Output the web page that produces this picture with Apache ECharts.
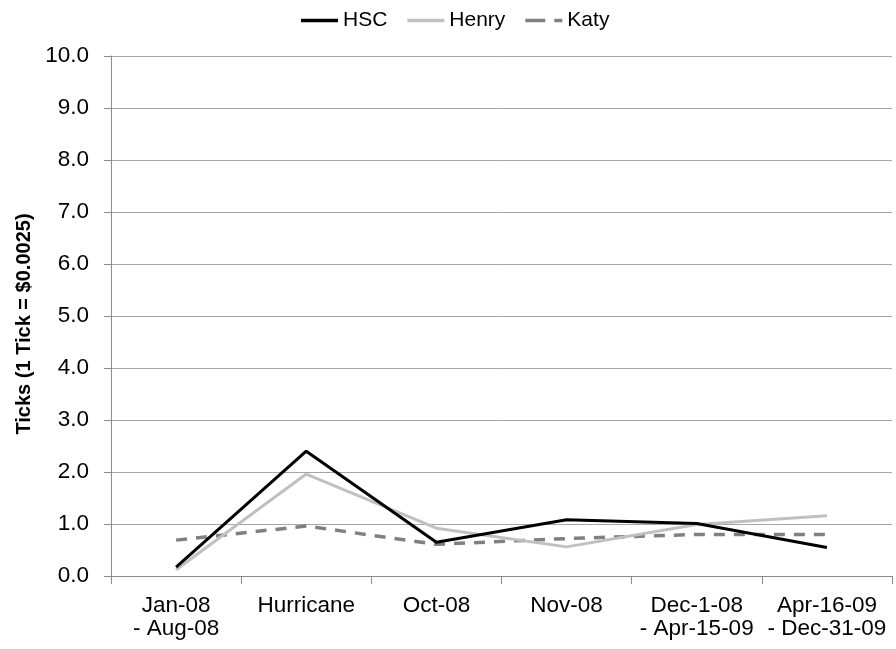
<!DOCTYPE html>
<html>
<head>
<meta charset="utf-8">
<script src="https://cdn.jsdelivr.net/npm/echarts@6/dist/echarts.min.js"></script>
<style>
  html, body { margin: 0; padding: 0; background: #fff; }
  #chart { width: 896px; height: 649px; }
</style>
</head>
<body>
<div id="chart"></div>
<script>
// Period categories (two-line labels)
const categories = ['Jan-08\n- Aug-08', 'Hurricane', 'Oct-08', 'Nov-08', 'Dec-1-08\n- Apr-15-09', 'Apr-16-09\n- Dec-31-09'];
// Spread in ticks for each hub
const hscValues   = [0.17, 2.40, 0.65, 1.08, 1.01, 0.55];
const henryValues = [0.12, 1.96, 0.92, 0.56, 0.99, 1.16];
const katyValues  = [0.69, 0.96, 0.61, 0.72, 0.80, 0.80];
const yTicks = { min: 0, max: 10, interval: 1 };

const font = 'Liberation Sans, Arial, sans-serif';
const solidIcon = 'path://M0,0h37v3.5h-37z';
const dashIcon = 'path://M0,0h20v3.5h-20zM29,0h8v3.5h-8z';

const chart = echarts.init(document.getElementById('chart'), null, { renderer: 'canvas' });

chart.setOption({
  backgroundColor: '#ffffff',
  animation: false,
  textStyle: { fontFamily: font },
  legend: {
    top: 5,
    left: 296,
    itemWidth: 37,
    itemHeight: 3.5,
    itemGap: 20,
    textStyle: { fontSize: 21, color: '#000', fontFamily: font },
    data: [
      { name: 'HSC', icon: solidIcon },
      { name: 'Henry', icon: solidIcon },
      { name: 'Katy', icon: dashIcon }
    ]
  },
  grid: { left: 111, right: 4, top: 56, bottom: 73, containLabel: false },
  xAxis: {
    type: 'category',
    data: categories,
    boundaryGap: true,
    axisLine: { lineStyle: { color: '#8c8c8c', width: 1 } },
    axisTick: { show: true, length: 8, interval: 0, lineStyle: { color: '#8c8c8c' } },
    axisLabel: { interval: 0, fontSize: 22.5, color: '#000', lineHeight: 23, margin: 18, fontFamily: font },
    splitLine: { show: false }
  },
  yAxis: {
    type: 'value',
    min: yTicks.min,
    max: yTicks.max,
    interval: yTicks.interval,
    name: 'Ticks (1 Tick = $0.0025)',
    nameLocation: 'middle',
    nameGap: 76,
    nameTextStyle: { fontSize: 20, fontWeight: 'bold', color: '#000', fontFamily: font, padding: [0, 16, 0, 0] },
    axisLine: { show: true, lineStyle: { color: '#8c8c8c', width: 1 } },
    axisTick: { show: true, length: 7, lineStyle: { color: '#8c8c8c' } },
    axisLabel: { fontSize: 22.5, color: '#000', margin: 22, fontFamily: font,
      formatter: v => v.toFixed(1) },
    splitLine: { show: true, lineStyle: { color: '#a6a6a6', width: 1 } }
  },
  series: [
    {
      name: 'HSC', type: 'line', data: hscValues, symbol: 'none',
      lineStyle: { color: '#000000', width: 3 }, itemStyle: { color: '#000000' }, z: 4
    },
    {
      name: 'Henry', type: 'line', data: henryValues, symbol: 'none',
      lineStyle: { color: '#c0c0c0', width: 3 }, itemStyle: { color: '#c0c0c0' }, z: 3
    },
    {
      name: 'Katy', type: 'line', data: katyValues, symbol: 'none',
      lineStyle: { color: '#808080', width: 3.5, type: [11, 9] }, itemStyle: { color: '#808080' }, z: 2
    }
  ]
});
</script>
</body>
</html>
